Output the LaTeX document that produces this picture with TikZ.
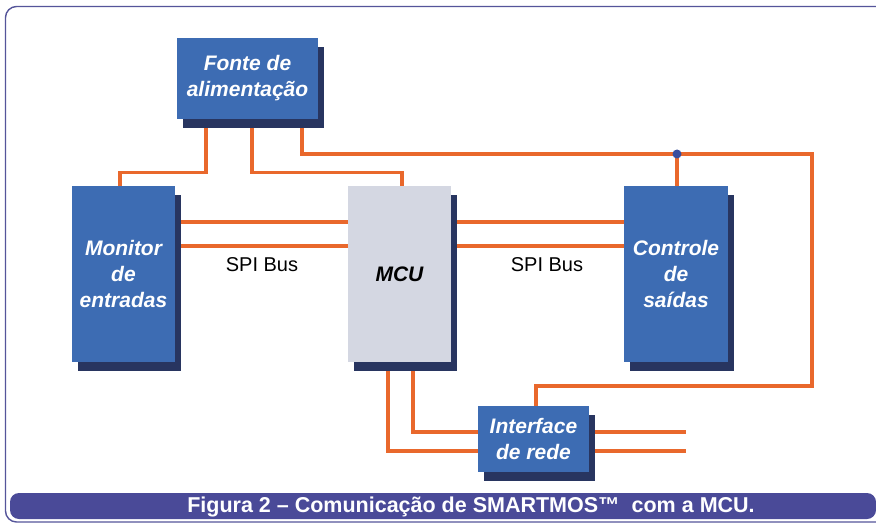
\documentclass[tikz,border=0pt]{standalone}
\usepackage{fontspec}
\setmainfont{Liberation Sans}
\usetikzlibrary{shadows}
\definecolor{boxblue}{HTML}{3D6CB3}
\definecolor{shadowc}{HTML}{283560}
\definecolor{mcugray}{HTML}{D4D7E2}
\definecolor{wirec}{HTML}{E9682C}
\definecolor{framec}{HTML}{55559A}
\definecolor{capbar}{HTML}{4A4A98}
\definecolor{dotc}{HTML}{3A4E9E}
\pgfdeclarelayer{back}
\pgfdeclarelayer{wires}
\pgfsetlayers{back,wires,main}
\tikzset{
  blk/.style={draw=none, inner sep=0pt, align=center,
    font=\fontsize{21}{26}\selectfont\bfseries\itshape,
    general shadow={shadow xshift=6pt, shadow yshift=-9pt, fill=shadowc}},
  bluebox/.style={blk, fill=boxblue, text=white},
  graybox/.style={blk, fill=mcugray, text=black},
  wire/.style={draw=wirec, line width=3.2pt},
  lbl/.style={font=\fontsize{20}{24}\selectfont, text=black}
}
\begin{document}
\begin{tikzpicture}[x=1pt,y=-1pt]
\useasboundingbox (0,0) rectangle (876,524);
% boxes
\node[bluebox, minimum width=141pt, minimum height=81pt] (fonte) at (247.5,78.5) {Fonte de\\alimentação};
\node[bluebox, minimum width=103pt, minimum height=176pt] (mon) at (123.5,274) {Monitor\\de\\entradas};
\node[graybox, minimum width=103pt, minimum height=176pt] (mcu) at (399.5,274) {MCU};
\node[bluebox, minimum width=104pt, minimum height=176pt] (ctl) at (676,274) {Controle\\de\\saídas};
\node[bluebox, minimum width=111pt, minimum height=66pt] (intf) at (533.5,439) {Interface\\de rede};
% labels
\node[lbl] (spi1) at (262,265) {SPI Bus};
\node[lbl] (spi2) at (547,265) {SPI Bus};
\coordinate (r1) at (812,154);
\coordinate (r2) at (812,386);
\coordinate (j) at (677,154);
\coordinate (o1) at (686,432);
\coordinate (o2) at (686,451);
\begin{pgfonlayer}{wires}
\draw[wire] ([xshift=-41.5pt]fonte.south) -- ++(0,53) -| ([xshift=-3.5pt]mon.north);
\draw[wire] ([xshift=4.5pt]fonte.south) -- ++(0,53) -| ([xshift=2.5pt]mcu.north);
\draw[wire] ([xshift=54.5pt]fonte.south) |- (r1) -- (r2) -| ([xshift=2.5pt]intf.north);
\draw[wire] (j) -- (j |- ctl.north);
\draw[wire] ([yshift=52pt]mon.east) -- ([yshift=52pt]mcu.west);
\draw[wire] ([yshift=28pt]mon.east) -- ([yshift=28pt]mcu.west);
\draw[wire] ([yshift=52pt]mcu.east) -- ([yshift=52pt]ctl.west);
\draw[wire] ([yshift=28pt]mcu.east) -- ([yshift=28pt]ctl.west);
\draw[wire] ([xshift=-11.5pt]mcu.south) |- ([yshift=-12pt]intf.west);
\draw[wire] ([xshift=13.5pt]mcu.south) |- ([yshift=7pt]intf.west);
\draw[wire] ([yshift=7pt]intf.east) -- (o1);
\draw[wire] ([yshift=-12pt]intf.east) -- (o2);
\end{pgfonlayer}
\fill[dotc] (j) circle (4.5pt);
\begin{pgfonlayer}{back}
\fill[white] (0,0) rectangle (876,524);
\draw[framec, line width=1.4pt, rounded corners=11pt] (5.5,6.5) rectangle (900,522);
\end{pgfonlayer}
% caption bar
\fill[capbar, rounded corners=9pt] (10,493) rectangle (876,519);
\node[font=\fontsize{21.5}{24}\selectfont\bfseries, text=white] (cap) at (471,506.5) {Figura 2 – Comunicação de SMARTMOS™\ \ com a MCU.};
\end{tikzpicture}
\end{document}
